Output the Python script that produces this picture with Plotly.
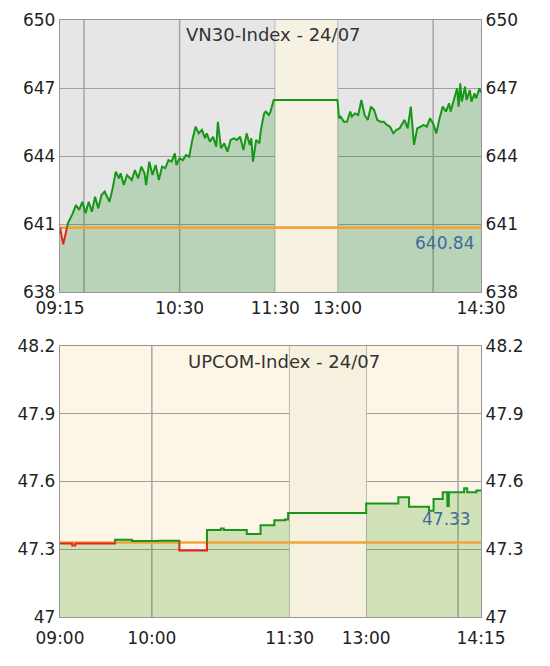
import plotly.graph_objects as go
from plotly.subplots import make_subplots

FONT = "DejaVu Sans, Verdana, sans-serif"

# ---------------- VN30-Index data ----------------
vn30_title = "VN30-Index - 24/07"
vn30_ref = 640.84
vn30_times = [
    "09:15", "09:17", "09:20", "09:23", "09:25", "09:27", "09:29", "09:31", "09:33", "09:35",
    "09:37", "09:39", "09:41", "09:43", "09:46", "09:48", "09:50", "09:52", "09:53", "09:55",
    "09:57", "10:00", "10:02", "10:04", "10:06", "10:08", "10:09", "10:11", "10:13", "10:15",
    "10:17", "10:19", "10:21", "10:23", "10:25", "10:27", "10:28", "10:30", "10:32", "10:34",
    "10:36", "10:38", "10:40", "10:42", "10:44", "10:46", "10:47", "10:49", "10:51", "10:53",
    "10:54", "10:56", "10:58", "11:00", "11:02", "11:04", "11:06", "11:08", "11:10", "11:12",
    "11:14", "11:15", "11:16", "11:18", "11:20", "11:21", "11:23", "11:24", "11:26", "11:27",
    "11:29", "11:30",
    "13:00", "13:01", "13:02", "13:04", "13:06", "13:08", "13:09", "13:11", "13:13", "13:15",
    "13:17", "13:19", "13:21", "13:23", "13:25", "13:27", "13:29", "13:31", "13:33", "13:35",
    "13:37", "13:39", "13:42", "13:44", "13:46", "13:48", "13:50", "13:52", "13:54", "13:56",
    "13:58", "14:00", "14:02", "14:04", "14:06", "14:08", "14:10", "14:11", "14:13", "14:15",
    "14:16", "14:17", "14:18", "14:20", "14:21", "14:23", "14:24", "14:26", "14:27", "14:29",
    "14:30",
]
vn30_values = [
    640.85, 640.10, 641.04, 641.47, 641.84, 641.62, 641.98, 641.47, 641.98, 641.54,
    642.20, 641.69, 642.28, 642.43, 641.98, 642.57, 643.31, 643.01, 643.24, 642.72,
    643.16, 642.94, 643.38, 643.01, 643.53, 643.24, 642.72, 643.75, 643.16, 643.60,
    642.94, 643.53, 643.46, 643.82, 643.75, 644.12, 643.60, 643.90, 643.82, 644.04,
    643.97, 644.71, 645.29, 645.00, 645.15, 644.78, 645.00, 644.63, 644.85, 644.41,
    645.51, 644.34, 644.56, 644.19, 644.71, 644.78, 644.71, 644.85, 644.26, 645.00,
    644.49, 644.78, 643.75, 644.71, 644.56, 645.15, 645.88, 645.96, 645.81, 645.96,
    646.47, 646.47,
    646.47, 645.66, 645.74, 645.51, 645.51, 645.96, 645.74, 645.88, 645.81, 646.47,
    645.81, 645.59, 646.18, 646.03, 645.59, 645.51, 645.51, 645.37, 645.29, 645.00,
    645.15, 645.22, 645.59, 645.22, 646.18, 644.49, 645.22, 645.29, 645.37, 645.29,
    645.66, 645.44, 645.00, 645.66, 646.18, 645.96, 646.32, 645.96, 646.54, 646.99,
    646.18, 647.21, 646.40, 647.06, 646.47, 646.91, 646.40, 646.76, 646.54, 646.99,
    646.80,
]
vn30_open, vn30_close, vn30_lunch_w = "09:15", "14:30", 39
vn30_xticks = ["09:15", "10:30", "11:30", "13:00", "14:30"]
vn30_xgrid = ["09:30", "10:30", "11:30", "13:00", "14:00"]
vn30_yticks = [638, 641, 644, 647, 650]

# ---------------- UPCOM-Index data ----------------
upcom_title = "UPCOM-Index - 24/07"
upcom_ref = 47.33
upcom_times = [
    "09:00", "09:08", "09:10", "09:12", "09:36", "09:47", "09:51", "10:04", "10:18", "10:36",
    "10:45", "10:47", "11:02", "11:11", "11:20", "11:27", "11:29",
    "13:00", "13:21", "13:28", "13:41", "13:44", "13:50", "13:53", "13:54", "14:04", "14:06",
    "14:12", "14:15",
]
upcom_values = [
    47.325, 47.317, 47.325, 47.325, 47.342, 47.336, 47.337, 47.338, 47.294, 47.385,
    47.392, 47.385, 47.368, 47.406, 47.428, 47.432, 47.460,
    47.503, 47.530, 47.488, 47.470, 47.522, 47.552, 47.492, 47.552, 47.570, 47.552,
    47.560, 47.565,
]
upcom_open, upcom_close, upcom_lunch_w = "09:00", "14:15", 50
upcom_xticks = ["09:00", "10:00", "11:30", "13:00", "14:15"]
upcom_xgrid = ["10:00", "11:30", "13:00", "14:00"]
upcom_yticks = [47, 47.3, 47.6, 47.9, 48.2]

# ---------------- helpers ----------------
def to_min(t):
    h, m = t.split(":")
    return int(h) * 60 + int(m)


def make_scale(open_t, lunch_w):
    o = to_min(open_t)
    lunch_start, lunch_end = to_min("11:30"), to_min("13:00")

    def pos(t):
        m = to_min(t)
        if m <= lunch_start:
            return m - o
        if m >= lunch_end:
            return lunch_start - o + lunch_w + (m - lunch_end)
        return lunch_start - o + lunch_w * (m - lunch_start) / (lunch_end - lunch_start)
    return pos


def step_expand(xs, ys):
    ox, oy = [xs[0]], [ys[0]]
    for i in range(1, len(xs)):
        ox += [xs[i], xs[i]]
        oy += [ys[i - 1], ys[i]]
    return ox, oy


def split_by_ref(xs, ys, ref):
    gx, gy, rx, ry = [], [], [], []
    for i in range(len(xs) - 1):
        x0, y0, x1, y1 = xs[i], ys[i], xs[i + 1], ys[i + 1]
        a0, a1 = y0 >= ref, y1 >= ref
        if a0 == a1 or y1 == y0:
            segs = [(x0, y0, x1, y1, a0)]
        else:
            f = (ref - y0) / (y1 - y0)
            xc = x0 + f * (x1 - x0)
            segs = [(x0, y0, xc, ref, a0), (xc, ref, x1, y1, a1)]
        for sx0, sy0, sx1, sy1, up in segs:
            X, Y = (gx, gy) if up else (rx, ry)
            if X and X[-1] == sx0 and Y[-1] == sy0:
                X.append(sx1); Y.append(sy1)
            else:
                if X:
                    X.append(None); Y.append(None)
                X += [sx0, sx1]; Y += [sy0, sy1]
    return gx, gy, rx, ry


GREEN = "#189618"
RED = "#e3241b"
ORANGE = "#f2a33a"
GRID = "#a0a0a0"
LABEL_BLUE = "#3f6a9c"

fig = make_subplots(rows=2, cols=1, specs=[[{"secondary_y": True}], [{"secondary_y": True}]])


def add_panel(row, times, values, ref, open_t, close_t, lunch_w, stepped,
              bg, lunch_bg, fill, yticks, xticks, xgrid, title, title_x, title_y,
              ref_shift, ref_x, xname, yname, xstandoff):
    pos = make_scale(open_t, lunch_w)
    xs = [pos(t) for t in times]
    ys = list(values)
    if stepped:
        xs, ys = step_expand(xs, ys)
    ymin, ymax = yticks[0], yticks[-1]
    x_end = pos(close_t)

    # panel background
    fig.add_shape(type="rect", xref=f"{xname} domain", yref=f"{yname} domain",
                  x0=0, x1=1, y0=0, y1=1, fillcolor=bg, line=dict(width=0), layer="below")
    # area under the curve
    fig.add_trace(go.Scatter(x=xs, y=ys, mode="lines", line=dict(width=0),
                             fill="tozeroy", fillcolor=fill, hoverinfo="skip",
                             showlegend=False), row=row, col=1)
    # lunch break band
    l0, l1 = pos("11:30"), pos("13:00")
    fig.add_trace(go.Scatter(x=[l0, l1, l1, l0, l0], y=[ymin, ymin, ymax, ymax, ymin],
                             mode="lines", line=dict(width=0), fill="toself",
                             fillcolor=lunch_bg, hoverinfo="skip", showlegend=False),
                  row=row, col=1)
    # reference line
    fig.add_trace(go.Scatter(x=[0, x_end], y=[ref, ref], mode="lines",
                             line=dict(color=ORANGE, width=2.6), hoverinfo="skip",
                             showlegend=False), row=row, col=1)
    gx, gy, rx, ry = split_by_ref(xs, ys, ref)
    fig.add_trace(go.Scatter(x=gx, y=gy, mode="lines", line=dict(color=GREEN, width=2),
                             showlegend=False), row=row, col=1)
    fig.add_trace(go.Scatter(x=rx, y=ry, mode="lines", line=dict(color=RED, width=2),
                             showlegend=False), row=row, col=1)
    # invisible trace on the right-hand axis so it is drawn
    fig.add_trace(go.Scatter(x=[0, x_end], y=[ref, ref], mode="lines",
                             line=dict(width=0), hoverinfo="skip", showlegend=False),
                  row=row, col=1, secondary_y=True)

    for g in xgrid:
        fig.add_shape(type="line", x0=pos(g), x1=pos(g), y0=0, y1=1,
                      xref=xname, yref=f"{yname} domain", layer="below",
                      line=dict(color=GRID, width=1.4))

    axis_font = dict(family=FONT, size=17, color="#222222")
    fig.update_xaxes(range=[0, x_end], domain=[0, 1], tickmode="array",
                     tickvals=[pos(t) for t in xticks], ticktext=xticks,
                     showgrid=False, zeroline=False, showline=True, mirror=True,
                     linecolor="#969696", linewidth=1.4, ticks="", tickfont=axis_font,
                     ticklabelstandoff=xstandoff, automargin=False, row=row, col=1)
    common_y = dict(range=[ymin, ymax], tickmode="array", tickvals=yticks,
                    ticktext=[f"{v:g}" for v in yticks], zeroline=False,
                    showline=True, linecolor="#969696", linewidth=1.4, ticks="",
                    tickfont=axis_font, automargin=False)
    fig.update_yaxes(showgrid=True, gridcolor=GRID, gridwidth=1.4, mirror=False,
                     row=row, col=1, secondary_y=False, **common_y)
    fig.update_yaxes(showgrid=False, row=row, col=1, secondary_y=True, **common_y)

    fig.add_annotation(text=title, xref=f"{xname} domain", yref=f"{yname} domain",
                       x=title_x, y=title_y, showarrow=False, xanchor="center",
                       yanchor="middle", font=dict(family=FONT, size=18, color="#333333"))
    fig.add_annotation(text=f"{ref:.2f}", xref=f"{xname} domain", yref=yname,
                       x=ref_x, y=ref, yshift=ref_shift, showarrow=False,
                       xanchor="right", yanchor="middle",
                       font=dict(family=FONT, size=17, color=LABEL_BLUE))


add_panel(1, vn30_times, vn30_values, vn30_ref, vn30_open, vn30_close, vn30_lunch_w, False,
          "#e6e6e6", "#f6f1e2", "rgba(0,135,0,0.2)", vn30_yticks, vn30_xticks, vn30_xgrid,
          vn30_title, 0.508, 0.948, -15, 0.987, "x", "y", 0)
add_panel(2, upcom_times, upcom_values, upcom_ref, upcom_open, upcom_close, upcom_lunch_w, True,
          "#fdf6e7", "#f6f0de", "rgba(40,150,0,0.2)", upcom_yticks, upcom_xticks, upcom_xgrid,
          upcom_title, 0.531, 0.941, 23, 0.980, "x2", "y3", 5)

# the page body adds an 8px offset; margins compensate so the plot lands at the target pixels
ML, MR, MT, MB = 52, 77, 12, 57
PH = 666 - MT - MB
top_dom = [(609 - 284) / PH, 1.0]
bot_dom = [0.0, (609 - 338) / PH]
fig.update_layout(
    width=550, height=666,
    margin=dict(l=ML, r=MR, t=MT, b=MB, autoexpand=False),
    paper_bgcolor="white", plot_bgcolor="rgba(0,0,0,0)",
    showlegend=False,
    yaxis=dict(domain=top_dom), yaxis2=dict(domain=top_dom),
    yaxis3=dict(domain=bot_dom), yaxis4=dict(domain=bot_dom),
    font=dict(family=FONT),
)

fig.write_html("out.html")
